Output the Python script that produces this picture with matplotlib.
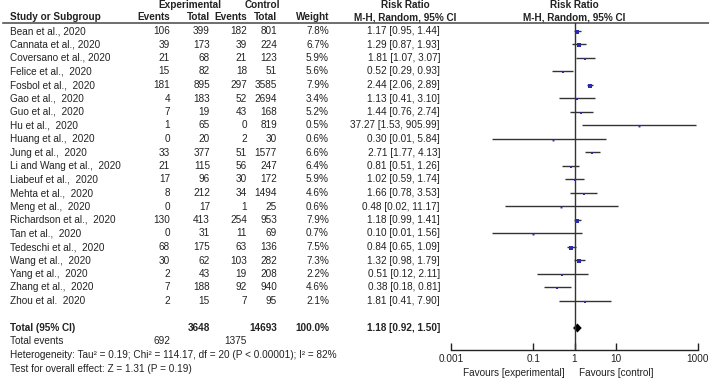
import matplotlib
matplotlib.use("Agg")
import matplotlib.pyplot as plt
import numpy as np

studies = ["Bean et al., 2020", "Cannata et al., 2020", "Coversano et al., 2020",
           "Felice et al.,  2020", "Fosbol et al.,  2020", "Gao et al.,  2020",
           "Guo et al.,  2020", "Hu et al.,  2020", "Huang et al.,  2020",
           "Jung et al.,  2020", "Li and Wang et al.,  2020", "Liabeuf et al.,  2020",
           "Mehta et al.,  2020", "Meng et al.,  2020", "Richardson et al.,  2020",
           "Tan et al.,  2020", "Tedeschi et al.,  2020", "Wang et al.,  2020",
           "Yang et al.,  2020", "Zhang et al.,  2020", "Zhou et al.  2020"]
exp_events = [106, 39, 21, 15, 181, 4, 7, 1, 0, 33, 21, 17, 8, 0, 130, 0, 68, 30, 2, 7, 2]
exp_total = [399, 173, 68, 82, 895, 183, 19, 65, 20, 377, 115, 96, 212, 17, 413, 31, 175, 62, 43, 188, 15]
ctl_events = [182, 39, 21, 18, 297, 52, 43, 0, 2, 51, 56, 30, 34, 1, 254, 11, 63, 103, 19, 92, 7]
ctl_total = [801, 224, 123, 51, 3585, 2694, 168, 819, 30, 1577, 247, 172, 1494, 25, 953, 69, 136, 282, 208, 940, 95]
weight = [7.8, 6.7, 5.9, 5.6, 7.9, 3.4, 5.2, 0.5, 0.6, 6.6, 6.4, 5.9, 4.6, 0.6, 7.9, 0.7, 7.5, 7.3, 2.2, 4.6, 2.1]
rr = [1.17, 1.29, 1.81, 0.52, 2.44, 1.13, 1.44, 37.27, 0.30, 2.71, 0.81, 1.02, 1.66, 0.48, 1.18, 0.10, 0.84, 1.32, 0.51, 0.38, 1.81]
lo = [0.95, 0.87, 1.07, 0.29, 2.06, 0.41, 0.76, 1.53, 0.01, 1.77, 0.51, 0.59, 0.78, 0.02, 0.99, 0.01, 0.65, 0.98, 0.12, 0.18, 0.41]
hi = [1.44, 1.93, 3.07, 0.93, 2.89, 3.10, 2.74, 905.99, 5.84, 4.13, 1.26, 1.74, 3.53, 11.17, 1.41, 1.56, 1.09, 1.79, 2.11, 0.81, 7.90]
total_exp = 3648
total_ctl = 14693
total_ev_exp = 692
total_ev_ctl = 1375
pooled = (1.18, 0.92, 1.50)
tick_vals = [0.001, 0.1, 1, 10, 1000]
tick_labels = ["0.001", "0.1", "1", "10", "1000"]

W, H = 709, 381
plt.rcParams['font.family'] = ['Liberation Sans', 'DejaVu Sans']
fs = 7.2
fig = plt.figure(figsize=(W / 100, H / 100), dpi=100)
ax = fig.add_axes([0, 0, 1, 1])
ax.set_xlim(0, W)
ax.set_ylim(H, 0)
ax.axis('off')

y0, dy = 31, 13.5
def rowy(i):
    return y0 + i * dy

# headers
hb = dict(fontsize=fs, fontweight='bold', va='center', color='#222222')
ax.text(10, 17, "Study or Subgroup", ha='left', **hb)
ax.text(190, 5, "Experimental", ha='center', **hb)
ax.text(170, 17, "Events", ha='right', **hb)
ax.text(210, 17, "Total", ha='right', **hb)
ax.text(262, 5, "Control", ha='center', **hb)
ax.text(247, 17, "Events", ha='right', **hb)
ax.text(277, 17, "Total", ha='right', **hb)
ax.text(329, 17, "Weight", ha='right', **hb)
ax.text(405, 5, "Risk Ratio", ha='center', **hb)
ax.text(405, 17, "M-H, Random, 95% CI", ha='center', **hb)
ax.text(574, 5, "Risk Ratio", ha='center', **hb)
ax.text(574, 17, "M-H, Random, 95% CI", ha='center', **hb)
ax.plot([3, W], [23, 23], color='#555555', lw=1.2)

tn = dict(fontsize=fs, va='center', color='#222222')
for i, s in enumerate(studies):
    y = rowy(i)
    ax.text(10, y, s, ha='left', **tn)
    ax.text(170, y, f"{exp_events[i]}", ha='right', **tn)
    ax.text(210, y, f"{exp_total[i]}", ha='right', **tn)
    ax.text(247, y, f"{ctl_events[i]}", ha='right', **tn)
    ax.text(277, y, f"{ctl_total[i]}", ha='right', **tn)
    ax.text(329, y, f"{weight[i]:.1f}%", ha='right', **tn)
    ax.text(440, y, f"{rr[i]:.2f} [{lo[i]:.2f}, {hi[i]:.2f}]", ha='right', **tn)

n = len(studies)
yt = rowy(n + 1)
ax.text(10, yt, "Total (95% CI)", ha='left', **hb)
ax.text(210, yt, f"{total_exp}", ha='right', **hb)
ax.text(277, yt, f"{total_ctl}", ha='right', **hb)
ax.text(329, yt, f"{sum(weight):.1f}%", ha='right', **hb)
ax.text(440, yt, f"{pooled[0]:.2f} [{pooled[1]:.2f}, {pooled[2]:.2f}]", ha='right', **hb)
ax.text(10, rowy(n + 2), "Total events", ha='left', **tn)
ax.text(170, rowy(n + 2), f"{total_ev_exp}", ha='right', **tn)
ax.text(247, rowy(n + 2), f"{total_ev_ctl}", ha='right', **tn)
ax.text(10, rowy(n + 3), "Heterogeneity: Tau² = 0.19; Chi² = 114.17, df = 20 (P < 0.00001); I² = 82%", ha='left', **tn)
ax.text(10, rowy(n + 4), "Test for overall effect: Z = 1.31 (P = 0.19)", ha='left', **tn)

# forest axes
x0p, x1p = 451, 698
ytop, ybot = 23, 350
fax = fig.add_axes([x0p / W, 1 - ybot / H, (x1p - x0p) / W, (ybot - ytop) / H])
fax.set_xscale('log')
fax.set_xlim(0.001, 1000)
fax.set_ylim(ybot, ytop)
fax.patch.set_alpha(0)
for sp in ['top', 'left', 'right']:
    fax.spines[sp].set_visible(False)
fax.spines['bottom'].set_color('#222222')
fax.spines['bottom'].set_linewidth(1.0)
fax.set_yticks([])
fax.set_xticks(tick_vals)
fax.set_xticklabels(tick_labels, fontsize=fs, color='#222222')
fax.xaxis.set_minor_locator(matplotlib.ticker.NullLocator())
fax.tick_params(axis='x', direction='in', length=5, width=1, pad=3, color='#222222')

fax.axvline(1, color='#333333', lw=1.0)
for i in range(n):
    y = rowy(i)
    fax.plot([lo[i], hi[i]], [y, y], color='#333333', lw=1.0, solid_capstyle='butt')
    fax.plot(rr[i], y + 1, marker='s', color='#2b2bb0', markersize=1.3 + weight[i] * 0.13, mew=0)

p, pl, ph = pooled
fax.fill([pl, p, ph, p], [yt, yt - 4.5, yt, yt + 4.5], color='black', lw=0)

ax.text(565, 373, "Favours [experimental]", ha='right', **tn)
ax.text(579, 373, "Favours [control]", ha='left', **tn)

fig.savefig("out.png", dpi=100)
